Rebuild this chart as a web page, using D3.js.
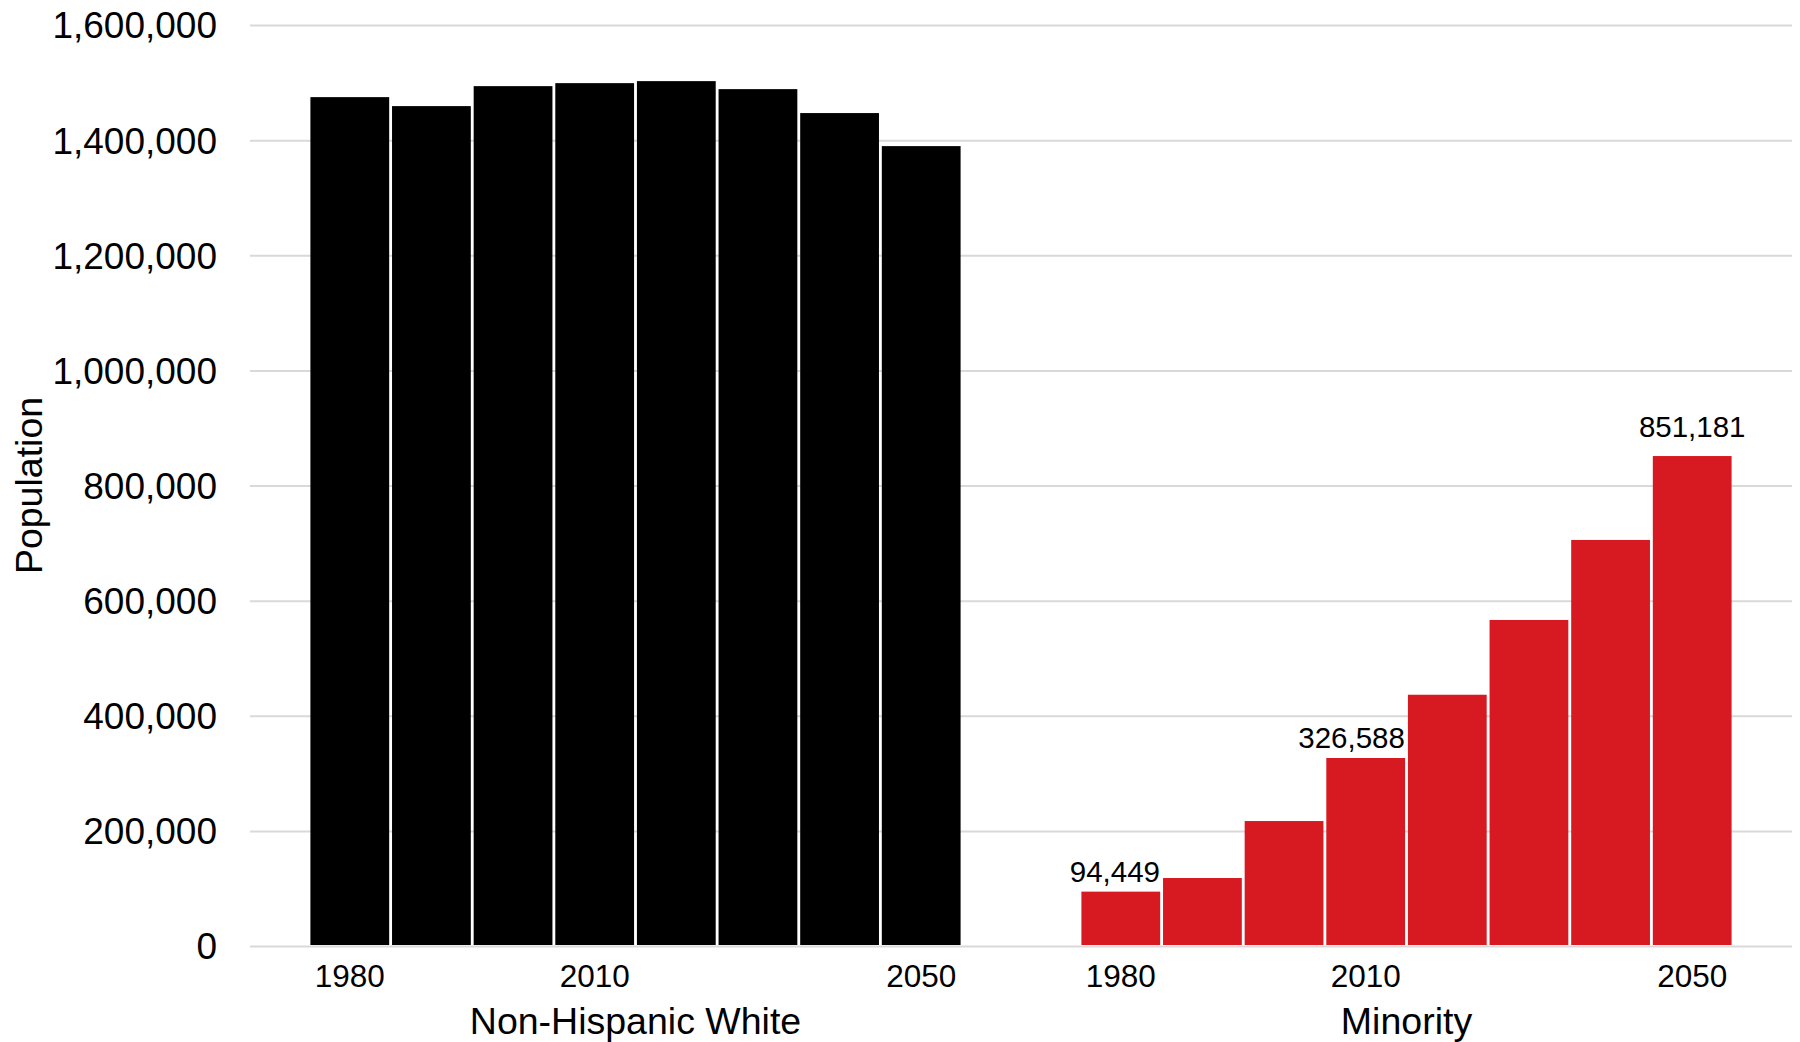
<!DOCTYPE html>
<html>
<head>
<meta charset="utf-8">
<script src="https://cdn.jsdelivr.net/npm/d3@7"></script>
<style>
  html, body { margin: 0; padding: 0; background: #ffffff; }
  svg { display: block; font-family: "Liberation Sans", Arial, Helvetica, sans-serif; }
</style>
</head>
<body>
<svg id="chart" width="1800" height="1042"></svg>
<script>
// Population by group, 1980-2050 (census + projections)
const groups = ["Non-Hispanic White", "Minority"];
const years = [1980, 1990, 2000, 2010, 2020, 2030, 2040, 2050];
const whitePopulation = [1474700, 1459100, 1493800, 1499000, 1502500, 1488600, 1447000, 1389600];
const minorityPopulation = [94449, 118100, 217100, 326588, 436500, 566400, 705400, 851181];
const yTickValues = [0, 200000, 400000, 600000, 800000, 1000000, 1200000, 1400000, 1600000];
const yearTickLabels = [1980, 2010, 2050];
const labelledYears = { "Minority": [1980, 2010, 2050] };

const seriesByGroup = {
  "Non-Hispanic White": whitePopulation,
  "Minority": minorityPopulation
};

const rows = [];
groups.forEach(g => {
  years.forEach((yr, i) => rows.push({ group: g, year: yr, value: seriesByGroup[g][i] }));
});

const svg = d3.select("#chart");
const plot = { left: 250, right: 1792, top: 25, bottom: 946 };

const y = d3.scaleLinear().domain([0, 1600000]).range([plot.bottom, plot.top]);
const xGroup = d3.scaleBand().domain(groups).range([plot.left, plot.right]).padding(0);
const xYear = d3.scaleBand().domain(years)
  .range([0, xGroup.bandwidth()])
  .paddingInner(0.035)
  .paddingOuter(0.74);
const color = d3.scaleOrdinal().domain(groups).range(["#000000", "#d71a21"]);

// horizontal gridlines + y tick labels
const yAxis = svg.append("g")
  .attr("transform", `translate(${plot.left},0)`)
  .call(d3.axisLeft(y)
    .tickValues(yTickValues)
    .tickSize(-(plot.right - plot.left))
    .tickPadding(33)
    .tickFormat(d3.format(",")));
yAxis.select(".domain").remove();
yAxis.selectAll(".tick line").attr("stroke", "#d9d9d9").attr("stroke-width", 2);
yAxis.selectAll(".tick text")
  .attr("fill", "#000")
  .style("font-size", "37px")
  .attr("dy", "0.35em");

// y axis title
svg.append("text")
  .attr("transform", `translate(42,${(plot.top + plot.bottom) / 2}) rotate(-90)`)
  .attr("text-anchor", "middle")
  .attr("fill", "#000")
  .style("font-size", "37.5px")
  .text("Population");

// bars, one panel per group
const panels = svg.selectAll("g.panel")
  .data(groups)
  .join("g")
  .attr("class", "panel")
  .attr("transform", d => `translate(${xGroup(d)},0)`);

panels.selectAll("rect")
  .data(g => rows.filter(r => r.group === g))
  .join("rect")
  .attr("x", d => xYear(d.year))
  .attr("width", xYear.bandwidth())
  .attr("y", d => y(d.value))
  .attr("height", d => y(0) - y(d.value) - 1)
  .attr("fill", d => color(d.group));

// year ticks under each panel
panels.each(function (g) {
  const ax = d3.select(this).append("g")
    .attr("transform", `translate(0,${plot.bottom})`)
    .call(d3.axisBottom(xYear).tickValues(yearTickLabels).tickSize(0).tickPadding(19));
  ax.select(".domain").remove();
  ax.selectAll(".tick text").attr("fill", "#000").style("font-size", "31.5px");
});

// group titles
panels.append("text")
  .attr("x", xGroup.bandwidth() / 2)
  .attr("y", 1034)
  .attr("text-anchor", "middle")
  .attr("fill", "#000")
  .style("font-size", "37.5px")
  .text(d => d);

// value labels above selected bars, nudged left when they would run into a taller neighbour
panels.each(function (g) {
  const wanted = labelledYears[g] || [];
  const series = rows.filter(r => r.group === g);
  const panel = d3.select(this);
  series.forEach((d, i) => {
    if (!wanted.includes(d.year)) return;
    const isLast = i === series.length - 1;
    const lift = isLast ? 19 : 10;
    const cx = xYear(d.year) + xYear.bandwidth() / 2;
    const baseY = y(d.value) - lift;
    const t = panel.append("text")
      .attr("x", cx)
      .attr("y", baseY)
      .attr("text-anchor", "middle")
      .attr("fill", "#000")
      .style("font-size", "29.5px")
      .text(d3.format(",")(d.value));
    const next = series[i + 1];
    if (next && y(next.value) < baseY) {
      const w = t.node().getComputedTextLength();
      const limit = xYear(next.year) - 3;
      if (cx + w / 2 > limit) t.attr("x", limit - w / 2);
    }
  });
});
</script>
</body>
</html>
